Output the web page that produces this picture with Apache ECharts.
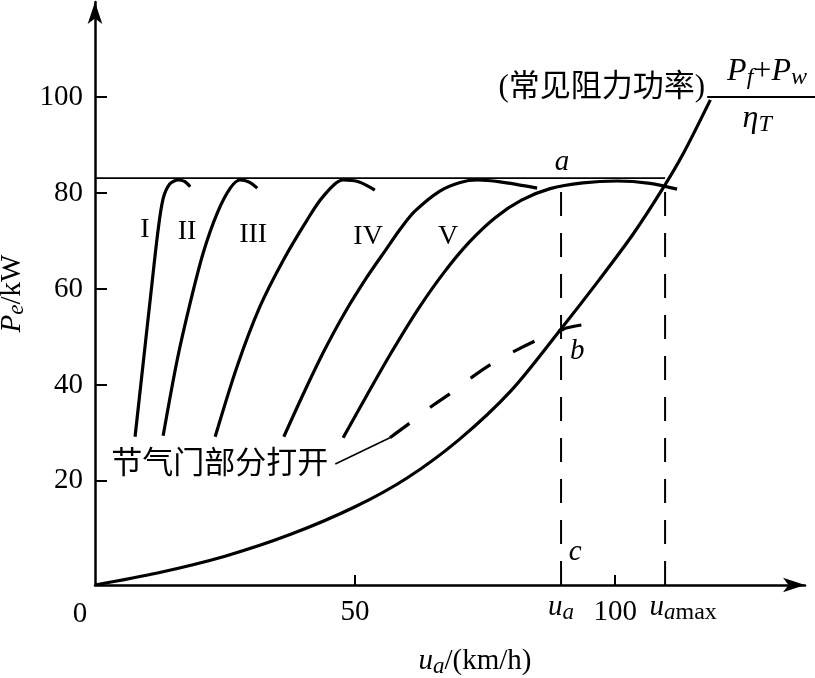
<!DOCTYPE html>
<html><head><meta charset="utf-8">
<script src="https://cdn.jsdelivr.net/npm/echarts@6/dist/echarts.min.js"></script>
<style>html,body{margin:0;padding:0;background:#fff}#c{width:815px;height:678px}</style>
</head><body><div id="c"></div>
<script>
// ---- data (km/h, kW) ----
const resistance = [[0,-1.7],[12,0.8],[25,4.3],[37.5,8.8],[50,14.6],[60,20.6],[70,28.6],[80,38.8],[89.4,51.4],[97,62.0],[103.5,71.5],[109.2,81.0],[113,88.0],[118.3,99.4]];
const gearI   = [[7.7,29.2],[9.2,43.9],[10.7,58.6],[12.1,72.0],[13.1,78.8],[14.4,81.9],[16.0,82.7],[17.2,82.4],[18.3,81.3]];
const gearII  = [[13.1,29.4],[15.8,45.2],[18.3,57.1],[20.8,67.5],[23.5,75.8],[26.0,81.0],[27.9,82.7],[29.6,82.3],[31.2,81.0]];
const gearIII = [[23.1,29.2],[27.3,43.8],[31.7,56.3],[36.2,66.0],[40.8,74.4],[43.8,79.2],[47.7,82.7],[50.8,82.3],[53.8,80.6]];
const gearIV  = [[36.3,29.2],[40,38],[44,47],[48,55],[52.3,62.5],[55.8,68],[58.7,72.5],[61.5,76.2],[66.3,80.4],[70.2,82.2],[73.5,82.7],[77.9,82.3],[85.0,81.0]];
const gearV   = [[47.7,29.0],[52.3,37.9],[57,46.8],[62,55.6],[67,63.3],[72,69.8],[77,74.9],[82,78.5],[87.5,80.9],[93.8,82.1],[100.4,82.5],[106.7,82.0],[111.9,80.8]];
const partThrottle = [[56.7,29.0],[60.6,32.1],[64.8,35.6],[68.7,38.5],[73.1,42.1],[76.9,44.8],[81.5,47.5],[85.9,49.8],[89.4,51.3],[90.8,51.9],[95.6,52.9]];
const leader = [[46.2,23.5],[56.7,29.0]];
const maxPower = [[0,83.1],[109.6,83.1]];
const uaLine = [[89.6,-1.7],[89.6,81.1]];
const uamaxLine = [[109.6,-1.7],[109.6,81.4]];
const yTicks = [20,40,60,80,100];
const xTicks = [50,100];
const gearNames = ['I','II','III','IV','V'];
const gearLabelPos = [[9.6,72.3],[17.7,71.9],[30.4,71.3],[52.5,70.8],[67.9,70.8]];

const SERIF = '"Liberation Serif","DejaVu Serif",serif';
const CJK = '"Liberation Serif","Noto Sans CJK SC",sans-serif';
const FS = 29;

const chart = echarts.init(document.getElementById('c'), null, {renderer:'canvas'});
const curve = (data, w, extra) => Object.assign({type:'line', data, smooth:0.3, showSymbol:false, symbol:'none', silent:true,
  lineStyle:{color:'#000', width:w}}, extra||{});

const option = {
  backgroundColor:'#fff',
  animation:false,
  grid:{left:95, right:10, top:2, bottom:93, containLabel:false, outerBoundsMode:'none'},
  xAxis:{type:'value', min:0, max:136.5,
    axisLine:{onZero:false, symbol:['none','arrow'], symbolSize:[11,22], lineStyle:{color:'#000', width:2.5}},
    axisTick:{show:true, inside:true, length:10, customValues:xTicks, lineStyle:{color:'#000', width:2}},
    axisLabel:{customValues:xTicks, margin:13, color:'#000', fontFamily:SERIF, fontSize:FS},
    splitLine:{show:false},
    name:'{i|u}{s|a}{n|/(km/h)}', nameLocation:'middle', nameGap:60,
    nameTextStyle:{color:'#000', padding:[0,0,0,50],
      rich:{i:{fontStyle:'italic', fontFamily:SERIF, fontSize:FS},
            s:{fontStyle:'italic', fontFamily:SERIF, fontSize:23, padding:[10,0,0,0]},
            n:{fontFamily:SERIF, fontSize:FS}}}
  },
  yAxis:{type:'value', min:-1.7, max:119.8,
    axisLine:{onZero:false, symbol:['none','arrow'], symbolSize:[11,22], lineStyle:{color:'#000', width:2.5}},
    axisTick:{show:true, inside:true, length:12, customValues:yTicks, lineStyle:{color:'#000', width:2}},
    axisLabel:{customValues:yTicks, margin:12, color:'#000', fontFamily:SERIF, fontSize:FS},
    splitLine:{show:false},
    name:'{i|P}{s|e}{n|/kW}', nameLocation:'middle', nameGap:56, nameRotate:90,
    nameTextStyle:{color:'#000',
      rich:{i:{fontStyle:'italic', fontFamily:SERIF, fontSize:FS},
            s:{fontStyle:'italic', fontFamily:SERIF, fontSize:23, padding:[10,0,0,0]},
            n:{fontFamily:SERIF, fontSize:FS}}}
  },
  series:[
    curve(resistance, 3.2),
    curve(gearI, 3.2), curve(gearII, 3.2), curve(gearIII, 3.2), curve(gearIV, 3.2), curve(gearV, 3.2),
    curve(partThrottle, 3.2, {lineStyle:{color:'#000', width:3.2, type:[24,26]}}),
    curve(leader, 1.6, {smooth:false}),
    curve(maxPower, 1.8, {smooth:false}),
    curve(uaLine, 2, {smooth:false, lineStyle:{color:'#000', width:2, type:[24,17]}}),
    curve(uamaxLine, 2, {smooth:false, lineStyle:{color:'#000', width:2, type:[24,17]}})
  ]
};
chart.setOption(option);

const P = (x,y) => chart.convertToPixel({gridIndex:0}, [x,y]);
const txt = (pt, text, style) => ({type:'text', x:pt[0], y:pt[1], silent:true,
  style:Object.assign({text, fill:'#000', font:FS+'px '+SERIF, align:'center', verticalAlign:'middle'}, style||{})});
const it = (s) => ({fontStyle:'italic', fontFamily:SERIF, fontSize:s});
const sub = (s,p) => ({fontStyle:'italic', fontFamily:SERIF, fontSize:s, padding:[p,0,0,0]});
const graphics = [];
gearNames.forEach((n,i)=>graphics.push(txt(P(gearLabelPos[i][0],gearLabelPos[i][1]), n, {font:'28px '+SERIF})));
graphics.push(txt(P(89.8,86.3), 'a', {font:'italic '+FS+'px '+SERIF}));
graphics.push(txt(P(92.7,46.9), 'b', {font:'italic '+FS+'px '+SERIF}));
graphics.push(txt(P(92.3,5.0), 'c', {font:'italic '+FS+'px '+SERIF}));
graphics.push(txt(P(-2.9,-7.9), '0', {}));
graphics.push(txt(P(89.6,-6.4), '{i|u}{s|a}', {rich:{i:it(FS), s:sub(23,10)}}));
graphics.push(txt(P(106.6,-6.4), '{i|u}{s|a}{m|max}', {align:'left', rich:{i:it(FS), s:sub(23,10), m:{fontFamily:SERIF, fontSize:24, padding:[10,0,0,0]}}}));
graphics.push(txt(P(24.0,23.3), '节气门部分打开', {font:'31px '+CJK}));
graphics.push(txt(P(117.3,101.9), '(常见阻力功率)', {font:'31px '+CJK, align:'right'}));
graphics.push(txt(P(129.2,105.2), '{i|P}{s|f}{n|+}{i|P}{s|w}', {rich:{i:it(32), s:sub(24,11), n:{fontFamily:SERIF, fontSize:32}}}));
graphics.push(txt(P(127.3,95.4), '{i|η}{s|T}', {rich:{i:it(32), s:sub(24,11)}}));
const b1 = P(117.7,100), b2 = P(138.5,100);
graphics.push({type:'line', silent:true, shape:{x1:b1[0], y1:b1[1], x2:b2[0], y2:b2[1]}, style:{stroke:'#000', lineWidth:1.8}});
chart.setOption({graphic:graphics});
</script>
</body></html>
